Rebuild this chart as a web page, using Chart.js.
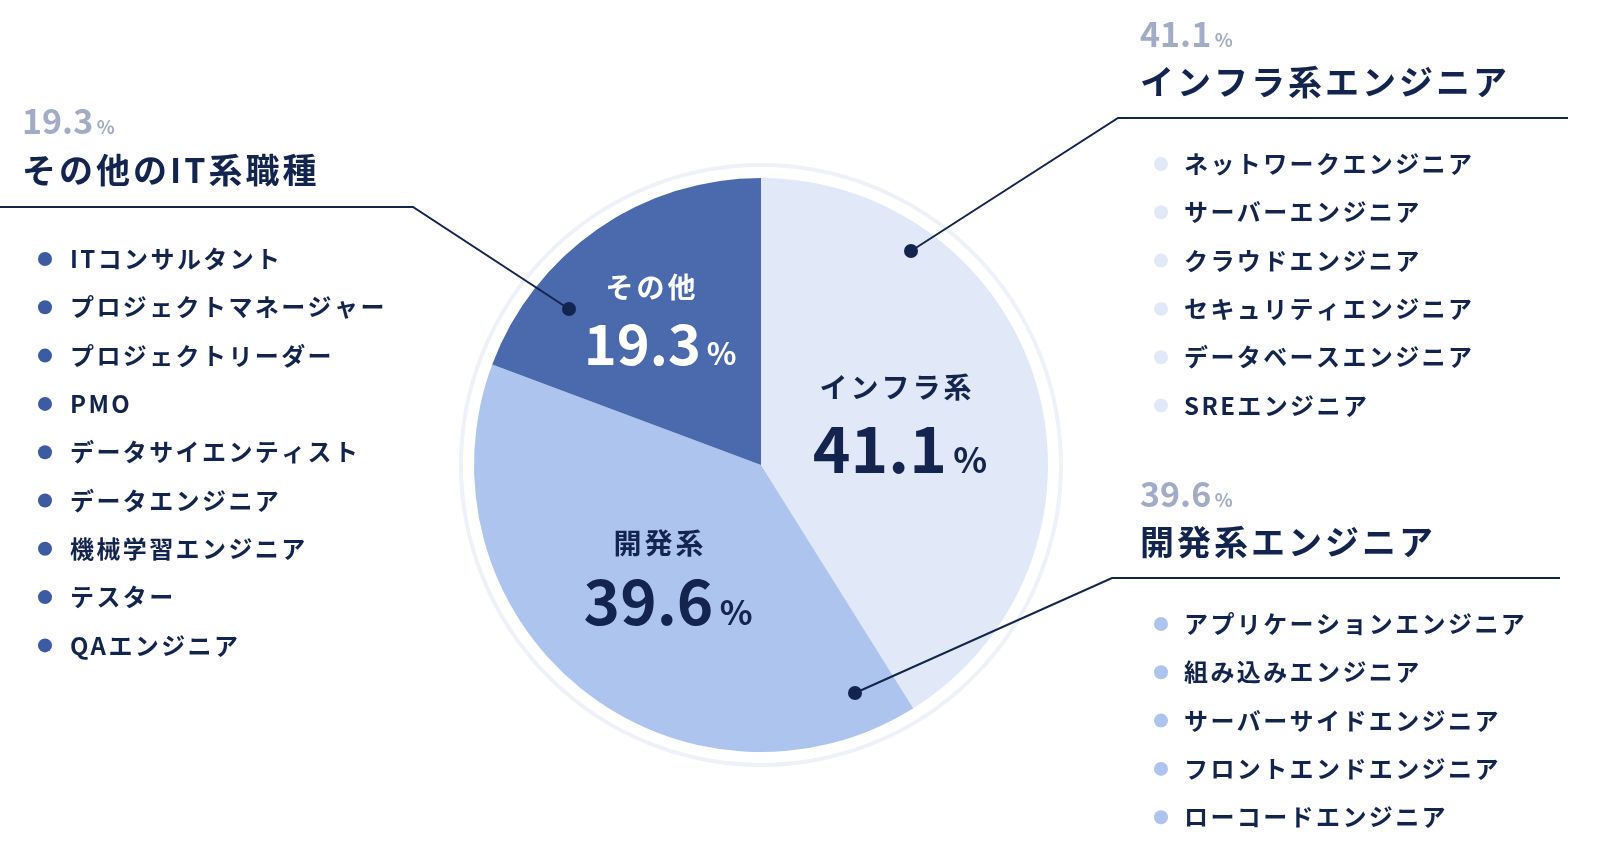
<!DOCTYPE html>
<html><head><meta charset="utf-8">
<script src="https://cdn.jsdelivr.net/npm/chart.js@4"></script>
<style>html,body{margin:0;background:#fff}#w{width:1609px;height:854px}</style>
</head><body><div id="w"><canvas id="c"></canvas></div>
<script>
const categories = ['インフラ系','開発系','その他'];
const values = [41.1, 39.6, 19.3];
const colors = ['#e1e9f8','#adc4ee','#4b6aad'];
const headings = ['インフラ系エンジニア','開発系エンジニア','その他のIT系職種'];
const infraJobs = ['ネットワークエンジニア','サーバーエンジニア','クラウドエンジニア','セキュリティエンジニア','データベースエンジニア','SREエンジニア'];
const devJobs = ['アプリケーションエンジニア','組み込みエンジニア','サーバーサイドエンジニア','フロントエンドエンジニア','ローコードエンジニア'];
const otherJobs = ['ITコンサルタント','プロジェクトマネージャー','プロジェクトリーダー','PMO','データサイエンティスト','データエンジニア','機械学習エンジニア','テスター','QAエンジニア'];
const NAVY='#13244f', GRAY='#a3acc6', F='"Noto Sans CJK JP","Noto Sans",sans-serif';

function pct(ctx,x,y,num,size,color,align){
  ctx.fillStyle=color; ctx.textBaseline='alphabetic'; ctx.letterSpacing='0px';
  ctx.font=`bold ${size}px ${F}`; const w1=ctx.measureText(num).width;
  ctx.font=`bold ${size*0.55}px ${F}`; const w2=ctx.measureText('%').width+size*0.1;
  let sx = align==='center'? x-(w1+w2)/2 : x;
  ctx.textAlign='left';
  ctx.font=`bold ${size}px ${F}`; ctx.fillText(num,sx,y);
  ctx.font=`bold ${size*0.55}px ${F}`; ctx.fillText('%',sx+w1+size*0.1,y);
}
const deco={id:'deco',
 beforeDatasetsDraw(c){const ctx=c.ctx,a=c.getDatasetMeta(0).data[0];
  ctx.save();ctx.beginPath();ctx.arc(a.x,a.y,a.outerRadius+13,0,Math.PI*2);
  ctx.strokeStyle='#eef1f7';ctx.lineWidth=4;ctx.stroke();ctx.restore();},
 afterDraw(c){const ctx=c.ctx;ctx.save();
  ctx.textAlign='center';ctx.fillStyle='#fff';ctx.font=`bold 28px ${F}`;ctx.letterSpacing='3px';
  ctx.fillText(categories[2],652,298);pct(ctx,660,365,values[2].toFixed(1),56,'#fff','center');
  ctx.textAlign='center';ctx.fillStyle=NAVY;ctx.font=`bold 28px ${F}`;ctx.letterSpacing='3px';
  ctx.fillText(categories[0],897,398);pct(ctx,900,473,values[0].toFixed(1),64,NAVY,'center');
  ctx.textAlign='center';ctx.fillStyle=NAVY;ctx.font=`bold 28px ${F}`;ctx.letterSpacing='3px';
  ctx.fillText(categories[1],660,554);pct(ctx,668,625,values[1].toFixed(1),62,NAVY,'center');
  pct(ctx,22,134,values[2].toFixed(1),34,GRAY);
  pct(ctx,1140,47,values[0].toFixed(1),34,GRAY);
  pct(ctx,1140,507,values[1].toFixed(1),34,GRAY);
  ctx.textAlign='left';ctx.fillStyle=NAVY;ctx.font=`bold 34px ${F}`;ctx.letterSpacing='3px';
  ctx.fillText(headings[2],22,183);ctx.fillText(headings[0],1140,95);ctx.fillText(headings[1],1140,555);
  ctx.strokeStyle=NAVY;ctx.lineWidth=2;
  const lines=[[[0,207],[413,207],[569,309]],[[1568,118],[1118,118],[911,251]],[[1560,578],[1112,578],[855,693]]];
  lines.forEach(l=>{ctx.beginPath();ctx.moveTo(...l[0]);ctx.lineTo(...l[1]);ctx.lineTo(...l[2]);ctx.stroke();
   ctx.beginPath();ctx.arc(l[2][0],l[2][1],7,0,Math.PI*2);ctx.fillStyle=NAVY;ctx.fill();});
  ctx.font=`bold 24px ${F}`;ctx.textBaseline='middle';ctx.letterSpacing='2.4px';
  const list=(items,bx,tx,y0,col)=>items.forEach((t,i)=>{const y=y0+i*48.3;
   ctx.beginPath();ctx.arc(bx,y,7,0,Math.PI*2);ctx.fillStyle=col;ctx.fill();
   ctx.fillStyle=NAVY;ctx.fillText(t,tx,y);});
  list(otherJobs,45,70,259,'#3d5ba3');
  list(infraJobs,1161,1184,164,'#e1e9f8');
  list(devJobs,1161,1184,624,'#adc4ee');
  ctx.restore();}};
new Chart(document.getElementById('c'),{type:'pie',
 data:{labels:categories,datasets:[{data:values,backgroundColor:colors,borderWidth:0}]},
 options:{responsive:true,maintainAspectRatio:false,animation:false,
  layout:{padding:{left:200,right:287,top:178,bottom:102}},
  plugins:{legend:{display:false},tooltip:{enabled:false}}},
 plugins:[deco]});
</script></body></html>
